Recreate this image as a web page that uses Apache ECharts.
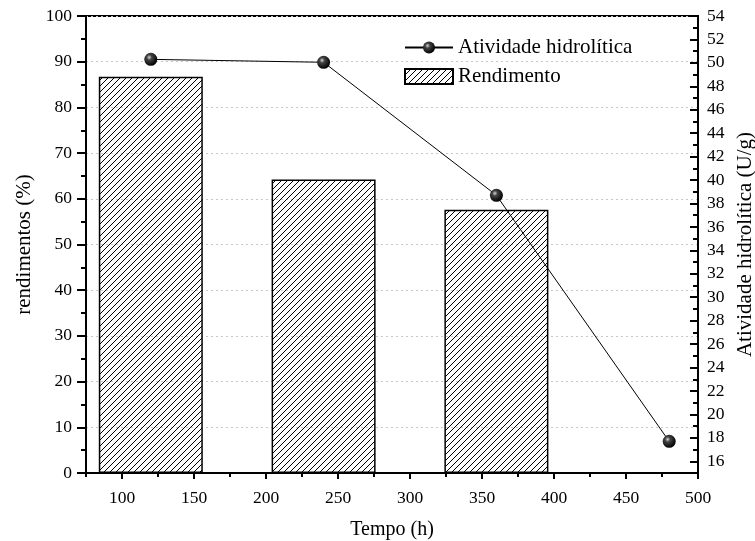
<!DOCTYPE html>
<html>
<head>
<meta charset="utf-8">
<script src="https://cdn.jsdelivr.net/npm/echarts@6/dist/echarts.min.js"></script>
<style>
  html, body { margin: 0; padding: 0; background: #fff; }
  #chart { width: 755px; height: 541px; }
</style>
</head>
<body>
<div id="chart"></div>
<script>
// Time points (h)
const tempoAtividade = [120, 240, 360, 480];
const tempoRendimento = [120, 240, 360];
// Yield (%) – bars on the left axis
const rendimento = [86.7, 64.2, 57.6];
// Hydrolytic activity (U/g) – line on the right axis
const atividade = [50.3, 50.05, 38.7, 17.7];
// Tick label values
const xLabels = [100, 150, 200, 250, 300, 350, 400, 450, 500];
const rightLabels = [16, 18, 20, 22, 24, 26, 28, 30, 32, 34, 36, 38, 40, 42, 44, 46, 48, 50, 52, 54];

const FONT = '"Liberation Serif", "Times New Roman", serif';

// Diagonal hatch tile for the bars
function hatchTile() {
  const s = 6;
  const c = document.createElement('canvas');
  c.width = s; c.height = s;
  const g = c.getContext('2d');
  g.strokeStyle = '#000';
  g.lineWidth = 1;
  g.beginPath();
  g.moveTo(0, s); g.lineTo(s, 0);
  g.moveTo(-1, 1); g.lineTo(1, -1);
  g.moveTo(s - 1, s + 1); g.lineTo(s + 1, s - 1);
  g.stroke();
  return c;
}

const chart = echarts.init(document.getElementById('chart'), null, { renderer: 'canvas' });

const axisLine = { show: true, lineStyle: { color: '#000', width: 2 } };
const tickLabel = { color: '#000', fontFamily: FONT, fontSize: 17.5 };

const option = {
  backgroundColor: '#fff',
  animation: false,
  grid: {
    left: 86, right: 57, top: 16, bottom: 68,
    outerBoundsMode: 'none',
    containLabel: false,
    show: true, borderColor: '#000', borderWidth: 2, backgroundColor: 'transparent'
  },
  legend: {
    orient: 'vertical',
    left: 404, top: 37,
    itemWidth: 48, itemHeight: 15, itemGap: 8,
    padding: 0,
    textStyle: { color: '#000', fontFamily: FONT, fontSize: 21 },
    data: [
      { name: 'Atividade hidrolítica' },
      { name: 'Rendimento', icon: 'rect' }
    ]
  },
  xAxis: [
    {
      type: 'value', min: 75, max: 500, position: 'bottom',
      name: 'Tempo (h)', nameLocation: 'middle', nameGap: 47,
      nameTextStyle: { color: '#000', fontFamily: FONT, fontSize: 20 },
      axisLine: axisLine,
      axisTick: { show: true, length: 6, customValues: xLabels, lineStyle: { color: '#000', width: 2 } },
      axisLabel: Object.assign({ margin: 16, customValues: xLabels }, tickLabel),
      splitLine: { show: false }
    },
    {
      type: 'value', min: 75, max: 500, interval: 25, position: 'bottom',
      axisLine: { show: false },
      axisTick: { show: true, length: 4, lineStyle: { color: '#000', width: 2 } },
      axisLabel: { show: false },
      splitLine: { show: false }
    }
  ],
  yAxis: [
    {
      type: 'value', min: 0, max: 100, interval: 10, position: 'left',
      name: 'rendimentos (%)', nameLocation: 'middle', nameGap: 50,
      nameTextStyle: { color: '#000', fontFamily: FONT, fontSize: 21 },
      axisLine: axisLine,
      axisTick: { show: true, length: 9, lineStyle: { color: '#000', width: 2 } },
      minorTick: { show: true, splitNumber: 2, length: 5, lineStyle: { color: '#000', width: 2 } },
      axisLabel: Object.assign({ margin: 14 }, tickLabel),
      splitLine: { show: true, lineStyle: { color: '#c8c8c8', type: [2, 3], width: 1 } }
    },
    {
      type: 'value', min: 15, max: 54, position: 'right',
      name: 'Atividade hidrolítica (U/g)', nameLocation: 'middle', nameGap: 34,
      nameRotate: 90,
      nameTextStyle: { color: '#000', fontFamily: FONT, fontSize: 21 },
      axisLine: axisLine,
      axisTick: { show: true, inside: true, length: 8, customValues: rightLabels, lineStyle: { color: '#000', width: 2 } },
      axisLabel: Object.assign({ margin: 9, customValues: rightLabels }, tickLabel),
      splitLine: { show: false }
    },
    {
      type: 'value', min: 15, max: 54, interval: 1, position: 'right',
      axisLine: { show: false },
      axisTick: { show: true, inside: true, length: 5, lineStyle: { color: '#000', width: 2 } },
      axisLabel: { show: false },
      splitLine: { show: false }
    }
  ],
  series: [
    {
      name: 'Rendimento',
      type: 'bar',
      xAxisIndex: 0, yAxisIndex: 0,
      barWidth: 104,
      z: 2,
      itemStyle: {
        color: { image: hatchTile(), repeat: 'repeat' },
        borderColor: '#000', borderWidth: 1.5
      },
      data: tempoRendimento.map((t, i) => [t, rendimento[i]])
    },
    {
      name: 'Atividade hidrolítica',
      type: 'line',
      xAxisIndex: 0, yAxisIndex: 1,
      z: 5,
      symbol: 'circle',
      symbolSize: 13,
      lineStyle: { color: '#000', width: 1 },
      itemStyle: {
        color: {
          type: 'radial', x: 0.38, y: 0.35, r: 0.65,
          colorStops: [
            { offset: 0, color: '#d8d8d8' },
            { offset: 0.3, color: '#444' },
            { offset: 1, color: '#000' }
          ]
        },
        borderWidth: 0
      },
      data: tempoAtividade.map((t, i) => [t, atividade[i]])
    }
  ]
};

chart.setOption(option);
</script>
</body>
</html>
